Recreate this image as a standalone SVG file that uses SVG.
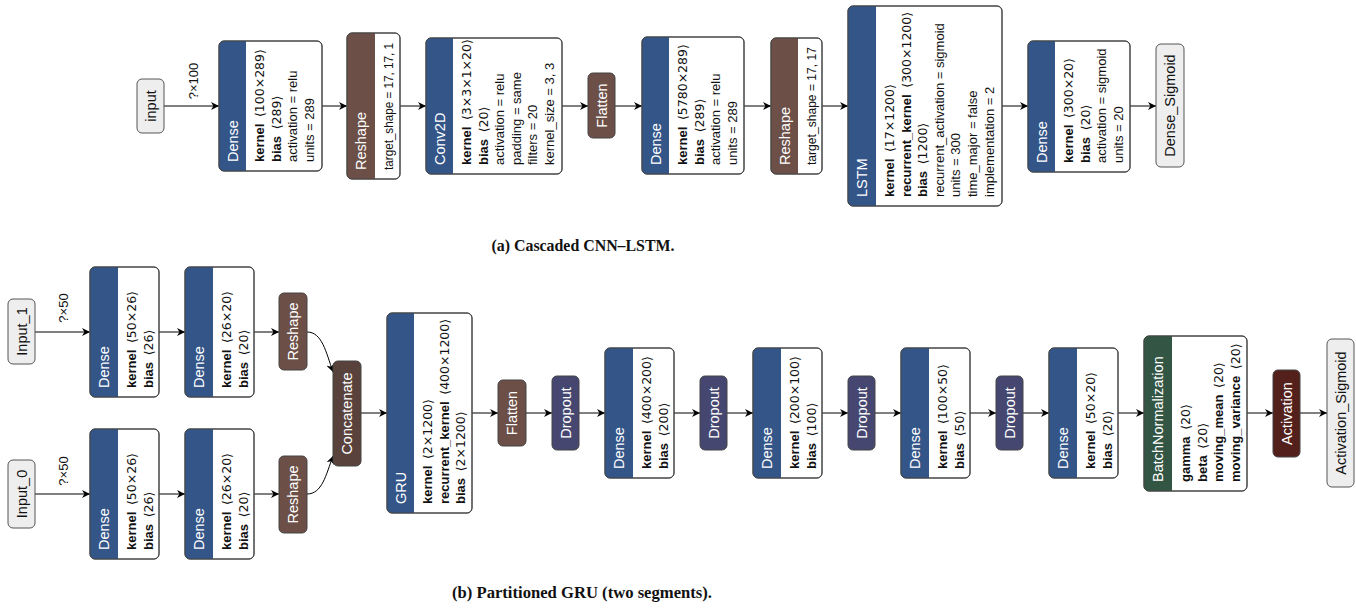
<svg xmlns="http://www.w3.org/2000/svg" width="1356" height="609" viewBox="0 0 1356 609">
<style>
.bg{fill:#fff}
.box{fill:#fff;stroke:#444;stroke-width:1}
.io{fill:#eee;stroke:#555;stroke-width:1}
.out{fill:none;stroke:#444;stroke-width:1}
.layer{fill:#335588}
.shape{fill:#6c4f47}
.tensor{fill:#59423b}
.drop{fill:#454770}
.norm{fill:#335544}
.act{fill:#54201b}
.t{font-family:"Liberation Sans",Arial,sans-serif;font-size:14.5px;fill:#fff;dominant-baseline:central}
.ti{font-family:"Liberation Sans",Arial,sans-serif;font-size:14.5px;fill:#111;dominant-baseline:central;text-anchor:middle}
.a{font-family:"Liberation Sans","DejaVu Sans",Arial,sans-serif;font-size:13px;fill:#111;dominant-baseline:central}
.b{font-weight:bold}
.s{font-family:"DejaVu Sans","Liberation Sans",sans-serif;font-size:12.5px}
.lbl{font-family:"Liberation Sans",Arial,sans-serif;font-size:13px;fill:#111;dominant-baseline:central;text-anchor:middle}
.cap{font-family:"Liberation Serif","Times New Roman",serif;font-size:17px;font-weight:bold;fill:#111;text-anchor:middle;dominant-baseline:central}
.e{fill:none;stroke:#000;stroke-width:1;marker-end:url(#arr)}
</style>
<defs>
<marker id="arr" viewBox="0 0 10 10" refX="10" refY="5" markerWidth="8" markerHeight="8" markerUnits="userSpaceOnUse" orient="auto">
<path d="M0,0 L10,5 L0,10 L3,5 Z" fill="#000"/>
</marker>
</defs>
<rect class="bg" x="0" y="0" width="1356" height="609"/>

<g id="connectors">
<line class="e" x1="164" y1="106" x2="219" y2="106"/>
<line class="e" x1="322" y1="106" x2="347" y2="106"/>
<line class="e" x1="400" y1="106" x2="426" y2="106"/>
<line class="e" x1="562" y1="106" x2="588" y2="106"/>
<line class="e" x1="615" y1="106" x2="642" y2="106"/>
<line class="e" x1="744" y1="106" x2="771" y2="106"/>
<line class="e" x1="822" y1="106" x2="848" y2="106"/>
<line class="e" x1="1002" y1="106" x2="1028" y2="106"/>
<line class="e" x1="1130" y1="106" x2="1156" y2="106"/>
<text class="lbl" transform="translate(193,81) rotate(-90)">?×100</text>

<line class="e" x1="35" y1="332" x2="90" y2="332"/>
<line class="e" x1="159" y1="332" x2="185" y2="332"/>
<line class="e" x1="254" y1="332" x2="279" y2="332"/>
<line class="e" x1="35" y1="494" x2="90" y2="494"/>
<line class="e" x1="159" y1="494" x2="185" y2="494"/>
<line class="e" x1="254" y1="494" x2="279" y2="494"/>
<text class="lbl" transform="translate(63,308) rotate(-90)">?×50</text>
<text class="lbl" transform="translate(63,471) rotate(-90)">?×50</text>
<path class="e" d="M307,332 C322,332 326,352 333,372"/>
<path class="e" d="M307,494 C322,494 326,475 333,456"/>
<line class="e" x1="361" y1="413" x2="387" y2="413"/>
<line class="e" x1="472" y1="413" x2="498" y2="413"/>
<line class="e" x1="526" y1="413" x2="552" y2="413"/>
<line class="e" x1="579" y1="413" x2="605" y2="413"/>
<line class="e" x1="674" y1="413" x2="700" y2="413"/>
<line class="e" x1="727" y1="413" x2="753" y2="413"/>
<line class="e" x1="822" y1="413" x2="848" y2="413"/>
<line class="e" x1="875" y1="413" x2="901" y2="413"/>
<line class="e" x1="970" y1="413" x2="996" y2="413"/>
<line class="e" x1="1023" y1="413" x2="1049" y2="413"/>
<line class="e" x1="1118" y1="413" x2="1144" y2="413"/>
<line class="e" x1="1247" y1="413" x2="1273" y2="413"/>
<line class="e" x1="1300" y1="413" x2="1327" y2="413"/>
</g>

<!-- (a) -->
<g id="input">
<rect class="io" x="137" y="79" width="27" height="54" rx="5"/>
<text class="ti" transform="translate(150.5,106) rotate(-90)">input</text>
</g>
<g id="dense1">
<rect class="box" x="219" y="41" width="103" height="130" rx="5"/>
<path class="layer" d="M224,41 H246 V171 H224 A5,5 0 0 1 219,166 V46 A5,5 0 0 1 224,41 Z"/>
<rect class="out" x="219" y="41" width="103" height="130" rx="5"/>
<text class="t" transform="translate(232.5,162) rotate(-90)">Dense</text>
<text class="a" transform="translate(259,162) rotate(-90)"><tspan class="b">kernel</tspan> <tspan class="s" dx="3">⟨100×289⟩</tspan></text>
<text class="a" transform="translate(275.7,162) rotate(-90)"><tspan class="b">bias</tspan> <tspan class="s" dx="3">⟨289⟩</tspan></text>
<text class="a" transform="translate(292.4,162) rotate(-90)">activation = relu</text>
<text class="a" transform="translate(309.1,162) rotate(-90)">units = 289</text>
</g>
<g id="reshape1">
<rect class="box" x="347" y="33" width="53" height="146" rx="5"/>
<path class="shape" d="M352,33 H375 V179 H352 A5,5 0 0 1 347,174 V38 A5,5 0 0 1 352,33 Z"/>
<rect class="out" x="347" y="33" width="53" height="146" rx="5"/>
<text class="t" transform="translate(361,170) rotate(-90)">Reshape</text>
<text class="a" transform="translate(388,170) rotate(-90)" textLength="127" lengthAdjust="spacingAndGlyphs">target_shape = 17, 17, 1</text>
</g>
<g id="conv2d">
<rect class="box" x="426" y="38" width="136" height="136" rx="5"/>
<path class="layer" d="M431,38 H453 V174 H431 A5,5 0 0 1 426,169 V43 A5,5 0 0 1 431,38 Z"/>
<rect class="out" x="426" y="38" width="136" height="136" rx="5"/>
<text class="t" transform="translate(439.5,165) rotate(-90)">Conv2D</text>
<text class="a" transform="translate(466,165) rotate(-90)"><tspan class="b">kernel</tspan> <tspan class="s" dx="3">⟨3×3×1×20⟩</tspan></text>
<text class="a" transform="translate(482.7,165) rotate(-90)"><tspan class="b">bias</tspan> <tspan class="s" dx="3">⟨20⟩</tspan></text>
<text class="a" transform="translate(499.4,165) rotate(-90)">activation = relu</text>
<text class="a" transform="translate(516.1,165) rotate(-90)">padding = same</text>
<text class="a" transform="translate(532.8,165) rotate(-90)">filters = 20</text>
<text class="a" transform="translate(549.5,165) rotate(-90)">kernel_size = 3, 3</text>
</g>
<g id="flatten1">
<rect class="shape" x="588" y="73" width="27" height="65" rx="5" stroke="#444"/>
<text class="t" text-anchor="middle" transform="translate(601.5,105.5) rotate(-90)">Flatten</text>
</g>
<g id="dense2">
<rect class="box" x="642" y="37" width="102" height="137" rx="5"/>
<path class="layer" d="M647,37 H669 V174 H647 A5,5 0 0 1 642,169 V42 A5,5 0 0 1 647,37 Z"/>
<rect class="out" x="642" y="37" width="102" height="137" rx="5"/>
<text class="t" transform="translate(655.5,165) rotate(-90)">Dense</text>
<text class="a" transform="translate(682,165) rotate(-90)"><tspan class="b">kernel</tspan> <tspan class="s" dx="3">⟨5780×289⟩</tspan></text>
<text class="a" transform="translate(698.7,165) rotate(-90)"><tspan class="b">bias</tspan> <tspan class="s" dx="3">⟨289⟩</tspan></text>
<text class="a" transform="translate(715.4,165) rotate(-90)">activation = relu</text>
<text class="a" transform="translate(732.1,165) rotate(-90)">units = 289</text>
</g>
<g id="reshape2">
<rect class="box" x="771" y="38" width="51" height="136" rx="5"/>
<path class="shape" d="M776,38 H798 V174 H776 A5,5 0 0 1 771,169 V43 A5,5 0 0 1 776,38 Z"/>
<rect class="out" x="771" y="38" width="51" height="136" rx="5"/>
<text class="t" transform="translate(784.5,165) rotate(-90)">Reshape</text>
<text class="a" transform="translate(811,165) rotate(-90)" textLength="118" lengthAdjust="spacingAndGlyphs">target_shape = 17, 17</text>
</g>
<g id="lstm">
<rect class="box" x="848" y="6" width="154" height="200" rx="5"/>
<path class="layer" d="M853,6 H876 V206 H853 A5,5 0 0 1 848,201 V11 A5,5 0 0 1 853,6 Z"/>
<rect class="out" x="848" y="6" width="154" height="200" rx="5"/>
<text class="t" transform="translate(862,197) rotate(-90)">LSTM</text>
<text class="a" transform="translate(889,197) rotate(-90)"><tspan class="b">kernel</tspan> <tspan class="s" dx="3">⟨17×1200⟩</tspan></text>
<text class="a" transform="translate(905.7,197) rotate(-90)"><tspan class="b">recurrent_kernel</tspan> <tspan class="s" dx="3">⟨300×1200⟩</tspan></text>
<text class="a" transform="translate(922.4,197) rotate(-90)"><tspan class="b">bias</tspan> <tspan class="s" dx="3">⟨1200⟩</tspan></text>
<text class="a" transform="translate(939.1,197) rotate(-90)">recurrent_activation = sigmoid</text>
<text class="a" transform="translate(955.8,197) rotate(-90)">units = 300</text>
<text class="a" transform="translate(972.5,197) rotate(-90)">time_major = false</text>
<text class="a" transform="translate(989.2,197) rotate(-90)">implementation = 2</text>
</g>
<g id="dense3">
<rect class="box" x="1028" y="41" width="102" height="131" rx="5"/>
<path class="layer" d="M1033,41 H1055 V172 H1033 A5,5 0 0 1 1028,167 V46 A5,5 0 0 1 1033,41 Z"/>
<rect class="out" x="1028" y="41" width="102" height="131" rx="5"/>
<text class="t" transform="translate(1041.5,163) rotate(-90)">Dense</text>
<text class="a" transform="translate(1068,163) rotate(-90)"><tspan class="b">kernel</tspan> <tspan class="s" dx="3">⟨300×20⟩</tspan></text>
<text class="a" transform="translate(1084.7,163) rotate(-90)"><tspan class="b">bias</tspan> <tspan class="s" dx="3">⟨20⟩</tspan></text>
<text class="a" transform="translate(1101.4,163) rotate(-90)">activation = sigmoid</text>
<text class="a" transform="translate(1118.1,163) rotate(-90)">units = 20</text>
</g>
<g id="dense_sigmoid">
<rect class="io" x="1156" y="44" width="28" height="123" rx="5"/>
<text class="ti" transform="translate(1170,105.5) rotate(-90)">Dense_Sigmoid</text>
</g>
<text class="cap" x="583" y="245" textLength="183" lengthAdjust="spacingAndGlyphs">(a) Cascaded CNN–LSTM.</text>

<!-- (b) -->
<g id="input_1">
<rect class="io" x="8" y="299" width="27" height="65" rx="5"/>
<text class="ti" transform="translate(21.5,331.5) rotate(-90)">Input_1</text>
</g>
<g id="dense_a1">
<rect class="box" x="90" y="267" width="69" height="130" rx="5"/>
<path class="layer" d="M95,267 H118 V397 H95 A5,5 0 0 1 90,392 V272 A5,5 0 0 1 95,267 Z"/>
<rect class="out" x="90" y="267" width="69" height="130" rx="5"/>
<text class="t" transform="translate(104,388) rotate(-90)">Dense</text>
<text class="a" transform="translate(131,388) rotate(-90)"><tspan class="b">kernel</tspan> <tspan class="s" dx="3">⟨50×26⟩</tspan></text>
<text class="a" transform="translate(147.7,388) rotate(-90)"><tspan class="b">bias</tspan> <tspan class="s" dx="3">⟨26⟩</tspan></text>
</g>
<g id="dense_a2">
<rect class="box" x="185" y="267" width="69" height="130" rx="5"/>
<path class="layer" d="M190,267 H213 V397 H190 A5,5 0 0 1 185,392 V272 A5,5 0 0 1 190,267 Z"/>
<rect class="out" x="185" y="267" width="69" height="130" rx="5"/>
<text class="t" transform="translate(199,388) rotate(-90)">Dense</text>
<text class="a" transform="translate(226,388) rotate(-90)"><tspan class="b">kernel</tspan> <tspan class="s" dx="3">⟨26×20⟩</tspan></text>
<text class="a" transform="translate(242.7,388) rotate(-90)"><tspan class="b">bias</tspan> <tspan class="s" dx="3">⟨20⟩</tspan></text>
</g>
<g id="reshape_a">
<rect class="shape" x="279" y="293" width="28" height="77" rx="5" stroke="#444"/>
<text class="t" text-anchor="middle" transform="translate(293,331.5) rotate(-90)">Reshape</text>
</g>
<g id="input_0">
<rect class="io" x="8" y="460" width="27" height="68" rx="5"/>
<text class="ti" transform="translate(21.5,494) rotate(-90)">Input_0</text>
</g>
<g id="dense_b1">
<rect class="box" x="90" y="429" width="69" height="130" rx="5"/>
<path class="layer" d="M95,429 H118 V559 H95 A5,5 0 0 1 90,554 V434 A5,5 0 0 1 95,429 Z"/>
<rect class="out" x="90" y="429" width="69" height="130" rx="5"/>
<text class="t" transform="translate(104,550) rotate(-90)">Dense</text>
<text class="a" transform="translate(131,550) rotate(-90)"><tspan class="b">kernel</tspan> <tspan class="s" dx="3">⟨50×26⟩</tspan></text>
<text class="a" transform="translate(147.7,550) rotate(-90)"><tspan class="b">bias</tspan> <tspan class="s" dx="3">⟨26⟩</tspan></text>
</g>
<g id="dense_b2">
<rect class="box" x="185" y="429" width="69" height="130" rx="5"/>
<path class="layer" d="M190,429 H213 V559 H190 A5,5 0 0 1 185,554 V434 A5,5 0 0 1 190,429 Z"/>
<rect class="out" x="185" y="429" width="69" height="130" rx="5"/>
<text class="t" transform="translate(199,550) rotate(-90)">Dense</text>
<text class="a" transform="translate(226,550) rotate(-90)"><tspan class="b">kernel</tspan> <tspan class="s" dx="3">⟨26×20⟩</tspan></text>
<text class="a" transform="translate(242.7,550) rotate(-90)"><tspan class="b">bias</tspan> <tspan class="s" dx="3">⟨20⟩</tspan></text>
</g>
<g id="reshape_b">
<rect class="shape" x="279" y="456" width="28" height="77" rx="5" stroke="#444"/>
<text class="t" text-anchor="middle" transform="translate(293,494.5) rotate(-90)">Reshape</text>
</g>
<g id="concatenate">
<rect class="tensor" x="333" y="361" width="28" height="105" rx="5" stroke="#444"/>
<text class="t" text-anchor="middle" transform="translate(347,413.5) rotate(-90)">Concatenate</text>
</g>
<g id="gru">
<rect class="box" x="387" y="313" width="85" height="200" rx="5"/>
<path class="layer" d="M392,313 H414 V513 H392 A5,5 0 0 1 387,508 V318 A5,5 0 0 1 392,313 Z"/>
<rect class="out" x="387" y="313" width="85" height="200" rx="5"/>
<text class="t" transform="translate(400.5,504) rotate(-90)">GRU</text>
<text class="a" transform="translate(427,504) rotate(-90)"><tspan class="b">kernel</tspan> <tspan class="s" dx="3">⟨2×1200⟩</tspan></text>
<text class="a" transform="translate(443.7,504) rotate(-90)"><tspan class="b">recurrent_kernel</tspan> <tspan class="s" dx="3">⟨400×1200⟩</tspan></text>
<text class="a" transform="translate(460.4,504) rotate(-90)"><tspan class="b">bias</tspan> <tspan class="s" dx="3">⟨2×1200⟩</tspan></text>
</g>
<g id="flatten2">
<rect class="shape" x="498" y="380" width="28" height="66" rx="5" stroke="#444"/>
<text class="t" text-anchor="middle" transform="translate(512,413) rotate(-90)">Flatten</text>
</g>
<g id="dropout1">
<rect class="drop" x="552" y="376" width="27" height="74" rx="5" stroke="#444"/>
<text class="t" text-anchor="middle" transform="translate(565.5,413) rotate(-90)">Dropout</text>
</g>
<g id="dense_c1">
<rect class="box" x="605" y="348" width="69" height="130" rx="5"/>
<path class="layer" d="M610,348 H633 V478 H610 A5,5 0 0 1 605,473 V353 A5,5 0 0 1 610,348 Z"/>
<rect class="out" x="605" y="348" width="69" height="130" rx="5"/>
<text class="t" transform="translate(619,469) rotate(-90)">Dense</text>
<text class="a" transform="translate(646,469) rotate(-90)"><tspan class="b">kernel</tspan> <tspan class="s" dx="3">⟨400×200⟩</tspan></text>
<text class="a" transform="translate(662.7,469) rotate(-90)"><tspan class="b">bias</tspan> <tspan class="s" dx="3">⟨200⟩</tspan></text>
</g>
<g id="dropout2">
<rect class="drop" x="700" y="376" width="27" height="74" rx="5" stroke="#444"/>
<text class="t" text-anchor="middle" transform="translate(713.5,413) rotate(-90)">Dropout</text>
</g>
<g id="dense_c2">
<rect class="box" x="753" y="348" width="69" height="130" rx="5"/>
<path class="layer" d="M758,348 H781 V478 H758 A5,5 0 0 1 753,473 V353 A5,5 0 0 1 758,348 Z"/>
<rect class="out" x="753" y="348" width="69" height="130" rx="5"/>
<text class="t" transform="translate(767,469) rotate(-90)">Dense</text>
<text class="a" transform="translate(794,469) rotate(-90)"><tspan class="b">kernel</tspan> <tspan class="s" dx="3">⟨200×100⟩</tspan></text>
<text class="a" transform="translate(810.7,469) rotate(-90)"><tspan class="b">bias</tspan> <tspan class="s" dx="3">⟨100⟩</tspan></text>
</g>
<g id="dropout3">
<rect class="drop" x="848" y="376" width="27" height="74" rx="5" stroke="#444"/>
<text class="t" text-anchor="middle" transform="translate(861.5,413) rotate(-90)">Dropout</text>
</g>
<g id="dense_c3">
<rect class="box" x="901" y="348" width="69" height="130" rx="5"/>
<path class="layer" d="M906,348 H929 V478 H906 A5,5 0 0 1 901,473 V353 A5,5 0 0 1 906,348 Z"/>
<rect class="out" x="901" y="348" width="69" height="130" rx="5"/>
<text class="t" transform="translate(915,469) rotate(-90)">Dense</text>
<text class="a" transform="translate(942,469) rotate(-90)"><tspan class="b">kernel</tspan> <tspan class="s" dx="3">⟨100×50⟩</tspan></text>
<text class="a" transform="translate(958.7,469) rotate(-90)"><tspan class="b">bias</tspan> <tspan class="s" dx="3">⟨50⟩</tspan></text>
</g>
<g id="dropout4">
<rect class="drop" x="996" y="376" width="27" height="74" rx="5" stroke="#444"/>
<text class="t" text-anchor="middle" transform="translate(1009.5,413) rotate(-90)">Dropout</text>
</g>
<g id="dense_c4">
<rect class="box" x="1049" y="348" width="69" height="130" rx="5"/>
<path class="layer" d="M1054,348 H1077 V478 H1054 A5,5 0 0 1 1049,473 V353 A5,5 0 0 1 1054,348 Z"/>
<rect class="out" x="1049" y="348" width="69" height="130" rx="5"/>
<text class="t" transform="translate(1063,469) rotate(-90)">Dense</text>
<text class="a" transform="translate(1090,469) rotate(-90)"><tspan class="b">kernel</tspan> <tspan class="s" dx="3">⟨50×20⟩</tspan></text>
<text class="a" transform="translate(1106.7,469) rotate(-90)"><tspan class="b">bias</tspan> <tspan class="s" dx="3">⟨20⟩</tspan></text>
</g>
<g id="batchnorm">
<rect class="box" x="1144" y="336" width="103" height="155" rx="5"/>
<path class="norm" d="M1149,336 H1172 V491 H1149 A5,5 0 0 1 1144,486 V341 A5,5 0 0 1 1149,336 Z"/>
<rect class="out" x="1144" y="336" width="103" height="155" rx="5"/>
<text class="t" transform="translate(1158,482) rotate(-90)">BatchNormalization</text>
<text class="a" transform="translate(1185,482) rotate(-90)"><tspan class="b">gamma</tspan> <tspan class="s" dx="3">⟨20⟩</tspan></text>
<text class="a" transform="translate(1201.7,482) rotate(-90)"><tspan class="b">beta</tspan> <tspan class="s" dx="3">⟨20⟩</tspan></text>
<text class="a" transform="translate(1218.4,482) rotate(-90)"><tspan class="b">moving_mean</tspan> <tspan class="s" dx="3">⟨20⟩</tspan></text>
<text class="a" transform="translate(1235.1,482) rotate(-90)"><tspan class="b">moving_variance</tspan> <tspan class="s" dx="3">⟨20⟩</tspan></text>
</g>
<g id="activation">
<rect class="act" x="1273" y="370" width="27" height="87" rx="5" stroke="#444"/>
<text class="t" text-anchor="middle" transform="translate(1286.5,413.5) rotate(-90)">Activation</text>
</g>
<g id="activation_sigmoid">
<rect class="io" x="1327" y="339" width="27" height="148" rx="5"/>
<text class="ti" transform="translate(1340.5,413) rotate(-90)">Activation_Sigmoid</text>
</g>
<text class="cap" x="582" y="592" textLength="260" lengthAdjust="spacingAndGlyphs">(b) Partitioned GRU (two segments).</text>
</svg>
